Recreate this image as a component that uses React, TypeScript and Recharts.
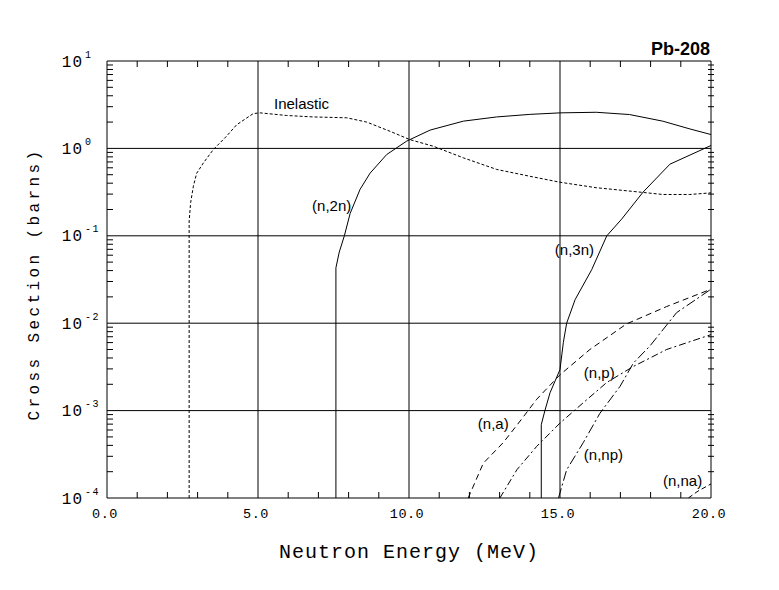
import React from 'react';
import { LineChart, Line, XAxis, YAxis, CartesianGrid, ReferenceDot } from 'recharts';

// ---- Data (Energy in MeV, cross section in barns) ----
const inelasticE = [2.72, 2.72, 2.77, 2.86, 2.97, 3.19, 3.52, 3.96, 4.29, 4.84, 5.07, 5.95, 6.83, 7.94, 8.6, 9.37, 10.03, 10.8, 11.8, 12.9, 14.0, 15.0, 16.2, 17.65, 18.4, 19.3, 20.0];
const inelasticXS = [1e-4, 0.148, 0.24, 0.37, 0.52, 0.68, 0.97, 1.38, 1.86, 2.5, 2.55, 2.38, 2.29, 2.24, 2.0, 1.57, 1.26, 1.06, 0.78, 0.575, 0.48, 0.41, 0.355, 0.316, 0.297, 0.297, 0.31];

const n2nE = [7.58, 7.58, 7.69, 7.86, 8.05, 8.38, 8.71, 9.26, 9.92, 10.7, 11.8, 12.9, 14.0, 15.0, 16.2, 17.3, 18.4, 19.3, 20.0];
const n2nXS = [1e-4, 0.043, 0.065, 0.1, 0.18, 0.34, 0.52, 0.85, 1.21, 1.62, 2.05, 2.29, 2.45, 2.55, 2.59, 2.44, 2.05, 1.67, 1.44];

const n3nE = [14.38, 14.38, 14.5, 14.67, 15.0, 15.11, 15.22, 15.5, 16.05, 16.55, 17.04, 17.75, 18.64, 20.0];
const n3nXS = [1e-4, 6.9e-4, 1.0e-3, 1.6e-3, 2.95e-3, 6.0e-3, 1.0e-2, 1.86e-2, 4.1e-2, 0.1, 0.155, 0.316, 0.66, 1.08];

const naE = [11.96, 12.46, 13.12, 13.68, 14.23, 15.0, 15.99, 17.2, 18.53, 20.0];
const naXS = [1e-4, 2.5e-4, 4.3e-4, 7.6e-4, 1.35e-3, 2.57e-3, 5.0e-3, 9.8e-3, 1.55e-2, 2.45e-2];

const npE = [13.01, 13.57, 14.23, 15.0, 15.77, 16.55, 17.43, 18.53, 20.0];
const npXS = [1e-4, 2.1e-4, 3.9e-4, 7.2e-4, 1.23e-3, 2.1e-3, 3.2e-3, 5.0e-3, 7.4e-3];

const nnpE = [14.95, 15.22, 15.77, 16.32, 16.99, 17.43, 17.98, 18.86, 20.0];
const nnpXS = [1e-4, 2.1e-4, 4.3e-4, 9.3e-4, 1.9e-3, 3.5e-3, 5.5e-3, 1.32e-2, 2.45e-2];

const nnaE = [19.25, 19.57, 20.0];
const nnaXS = [1e-4, 1.2e-4, 1.45e-4];

// annotation anchors (data coordinates: energy, cross section at text baseline)
const annoText = ['Inelastic', '(n,2n)', '(n,3n)', '(n,p)', '(n,a)', '(n,np)', '(n,na)'];
const annoE = [5.53, 6.79, 14.83, 15.79, 12.28, 15.79, 18.41];
const annoXS = [2.79, 0.19, 0.0611, 2.33e-3, 6.08e-4, 2.75e-4, 1.355e-4];

// axes
const xTicks = [0, 1, 2, 3, 4, 5, 6, 7, 8, 9, 10, 11, 12, 13, 14, 15, 16, 17, 18, 19, 20];
const xMajor = [0, 5, 10, 15, 20];
const xGrid = [5, 10, 15];
const decades = [1e-4, 1e-3, 1e-2, 1e-1, 1, 10];
const mantissas = [1, 2, 3, 4, 5, 6, 7, 8, 9];
const yGrid = [1e-3, 1e-2, 1e-1, 1];

const yTicks: number[] = [];
decades.forEach((d, i) => {
  if (i === decades.length - 1) { yTicks.push(d); return; }
  mantissas.forEach((m) => yTicks.push(m * d));
});

const toPts = (e: number[], v: number[]) => e.map((x, i) => ({ x, y: v[i] }));

const series = [
  { name: 'Inelastic', data: toPts(inelasticE, inelasticXS), dash: '3 2' },
  { name: '(n,2n)', data: toPts(n2nE, n2nXS), dash: undefined },
  { name: '(n,3n)', data: toPts(n3nE, n3nXS), dash: undefined },
  { name: '(n,a)', data: toPts(naE, naXS), dash: '6 4' },
  { name: '(n,p)', data: toPts(npE, npXS), dash: '7 3 2 3' },
  { name: '(n,np)', data: toPts(nnpE, nnpXS), dash: '10 3 2 3' },
  { name: '(n,na)', data: toPts(nnaE, nnaXS), dash: '5 3' },
];

const MONO = "'Liberation Mono', 'DejaVu Sans Mono', monospace";
const SANS = "'Liberation Sans', Arial, sans-serif";

const isDecade = (v: number) => Math.abs(Math.log10(v) - Math.round(Math.log10(v))) < 1e-6;

function LeftTick(props: any) {
  const { x, y, payload } = props;
  const v = payload.value as number;
  const xx = Number(x);
  const yy = Number(y);
  if (isDecade(v)) {
    const exp = Math.round(Math.log10(v));
    return (
      <g>
        <text x={xx - 24} y={yy + 5.5} textAnchor="end" fontFamily={MONO} fontSize={16} letterSpacing={1} fill="#000">10</text>
        <text x={xx - 22} y={yy - 3.5} textAnchor="start" fontFamily={MONO} fontSize={10} letterSpacing={1.5} fill="#000">{exp}</text>
      </g>
    );
  }
  return (
    <g>
      <line x1={xx} x2={xx + 6} y1={yy} y2={yy} stroke="#000" strokeWidth={1} />
    </g>
  );
}

function RightTick(props: any) {
  const { x, y, payload } = props;
  const v = payload.value as number;
  const xx = Number(x);
  const yy = Number(y);
  if (isDecade(v)) return <g />;
  return (
    <g>
      <line x1={xx - 3} x2={xx + 3} y1={yy} y2={yy} stroke="#000" strokeWidth={1} />
    </g>
  );
}

function BottomTick(props: any) {
  const { x, y, payload } = props;
  const v = payload.value as number;
  const xx = Number(x);
  const yy = Number(y);
  if (xMajor.includes(v)) {
    return (
      <text x={xx - 2} y={yy + 20} textAnchor="middle" fontFamily={MONO} fontSize={13.5} letterSpacing={0.5} fill="#000">
        {v.toFixed(1)}
      </text>
    );
  }
  return (
    <g>
      <line x1={xx} x2={xx} y1={yy} y2={yy - 6} stroke="#000" strokeWidth={1} />
    </g>
  );
}

function TopTick(props: any) {
  const { x, y, payload } = props;
  const v = payload.value as number;
  const xx = Number(x);
  const yy = Number(y);
  if (xMajor.includes(v)) return <g />;
  return (
    <g>
      <line x1={xx} x2={xx} y1={yy} y2={yy + 6} stroke="#000" strokeWidth={1} />
    </g>
  );
}

export default function App() {
  return (
    <div style={{ position: 'absolute', left: 0, top: 0, width: 779, height: 590, background: '#fff' }}>
      <LineChart width={779} height={590} margin={{ top: 41, right: 48, bottom: 52, left: 47 }}>
        <CartesianGrid
          horizontal
          vertical
          horizontalValues={yGrid}
          verticalValues={xGrid}
          stroke="#000"
          strokeWidth={1}
        />
        <XAxis
          dataKey="x"
          type="number"
          domain={[0, 20]}
          ticks={xTicks}
          interval={0}
          height={40}
          tickSize={0}
          tickMargin={0}
          tickLine={false}
          axisLine={{ stroke: '#000', strokeWidth: 1 }}
          tick={(p: any) => <BottomTick {...p} />}
          allowDataOverflow
        />
        <XAxis
          xAxisId="top"
          orientation="top"
          dataKey="x"
          type="number"
          domain={[0, 20]}
          ticks={xTicks}
          interval={0}
          height={20}
          tickSize={0}
          tickMargin={0}
          tickLine={false}
          axisLine={{ stroke: '#000', strokeWidth: 1 }}
          tick={(p: any) => <TopTick {...p} />}
          allowDataOverflow
        />
        <YAxis
          type="number"
          scale="log"
          domain={[1e-4, 10]}
          ticks={yTicks}
          interval={0}
          width={60}
          tickSize={0}
          tickMargin={0}
          tickLine={false}
          axisLine={{ stroke: '#000', strokeWidth: 1 }}
          tick={(p: any) => <LeftTick {...p} />}
          allowDataOverflow
        />
        <YAxis
          yAxisId="r"
          orientation="right"
          type="number"
          scale="log"
          domain={[1e-4, 10]}
          ticks={yTicks}
          interval={0}
          width={20}
          tickSize={0}
          tickMargin={0}
          tickLine={false}
          axisLine={{ stroke: '#000', strokeWidth: 1 }}
          tick={(p: any) => <RightTick {...p} />}
          allowDataOverflow
        />
        {series.map((s) => (
          <Line
            key={s.name}
            data={s.data}
            dataKey="y"
            type="linear"
            stroke="#000"
            strokeWidth={1}
            strokeDasharray={s.dash}
            dot={false}
            activeDot={false}
            isAnimationActive={false}
          />
        ))}
        {annoText.map((t, i) => (
          <ReferenceDot
            key={t}
            x={annoE[i]}
            y={annoXS[i]}
            r={0}
            ifOverflow="visible"
            shape={(p: any) => (
              <text x={p.cx} y={p.cy} fontFamily={SANS} fontSize={15} fill="#000">{t}</text>
            )}
          />
        ))}
      </LineChart>
      <svg width={779} height={590} style={{ position: 'absolute', left: 0, top: 0, pointerEvents: 'none' }}>
        <text x={710} y={55} textAnchor="end" fontFamily={SANS} fontWeight="bold" fontSize={18} fill="#000">Pb-208</text>
        <text x={409} y={558} textAnchor="middle" fontFamily={MONO} fontSize={20} letterSpacing={1} fill="#000">Neutron Energy (MeV)</text>
        <text transform="translate(38.5,284) rotate(-90)" textAnchor="middle" fontFamily={MONO} fontSize={16} letterSpacing={3.4} fill="#000">Cross Section (barns)</text>
      </svg>
    </div>
  );
}
